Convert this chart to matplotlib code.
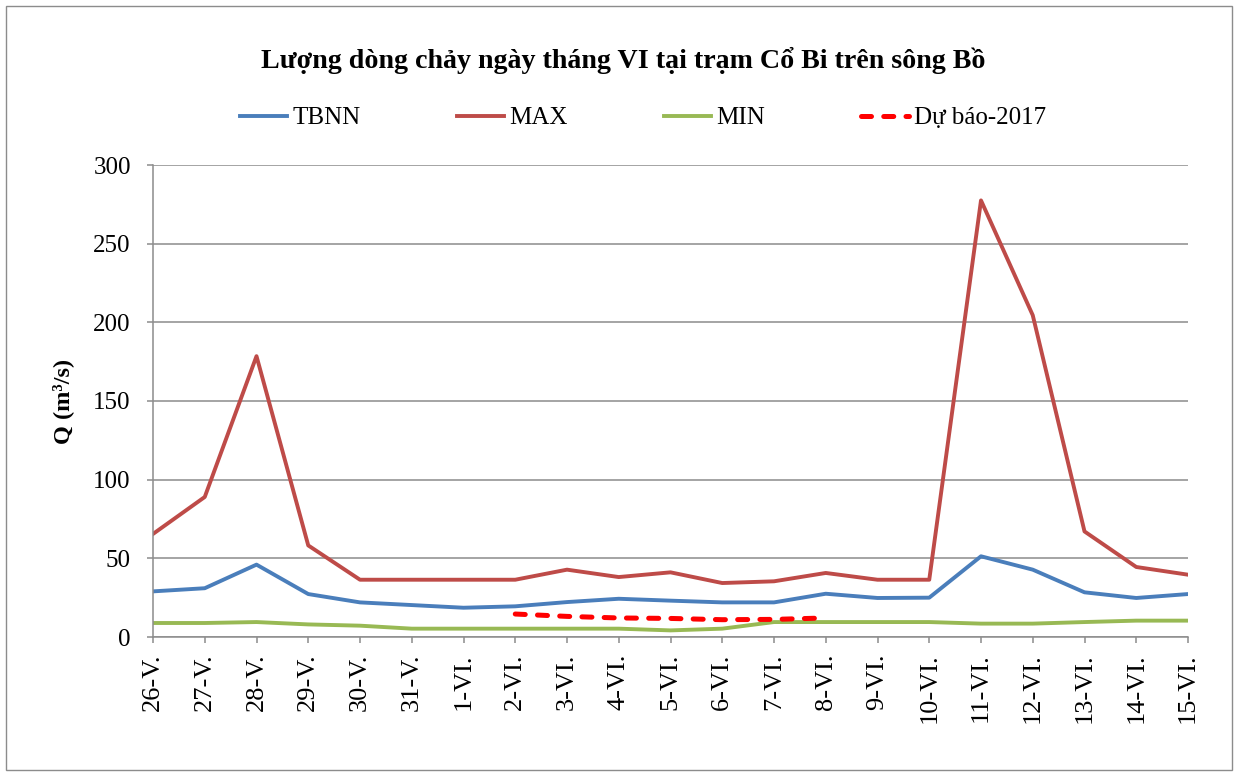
import matplotlib
matplotlib.use("Agg")
import matplotlib.pyplot as plt
from matplotlib.patches import Rectangle

categories = ["26-V.", "27-V.", "28-V.", "29-V.", "30-V.", "31-V.",
              "1-VI.", "2-VI.", "3-VI.", "4-VI.", "5-VI.", "6-VI.", "7-VI.",
              "8-VI.", "9-VI.", "10-VI.", "11-VI.", "12-VI.", "13-VI.",
              "14-VI.", "15-VI."]
tbnn = [29.0, 31.0, 46.0, 27.3, 22.0, 20.3, 18.6, 19.5, 22.2, 24.3, 23.1,
        22.0, 22.0, 27.5, 24.8, 25.0, 51.3, 42.8, 28.4, 24.8, 27.3]
vmax = [65.5, 89.0, 178.5, 58.2, 36.4, 36.4, 36.4, 36.4, 42.8, 38.1, 41.1,
        34.3, 35.4, 40.7, 36.4, 36.4, 277.5, 204.5, 67.1, 44.5, 39.6]
vmin = [8.9, 8.9, 9.5, 8.0, 7.2, 5.3, 5.3, 5.3, 5.3, 5.3, 4.2,
        5.3, 9.5, 9.5, 9.5, 9.5, 8.5, 8.5, 9.5, 10.4, 10.4]
forecast_cats = ["2-VI.", "3-VI.", "4-VI.", "5-VI.", "6-VI.", "7-VI.", "8-VI."]
forecast = [14.6, 13.1, 12.1, 11.8, 11.0, 11.2, 12.1]
yticks = [0, 50, 100, 150, 200, 250, 300]

title = "Lượng dòng chảy ngày tháng VI tại trạm Cổ Bi trên sông Bồ"
ylabel = "Q (m³/s)"

plt.rcParams['font.family'] = ['Liberation Serif', 'DejaVu Serif']

fig = plt.figure(figsize=(12.38, 7.74), dpi=100)
ax = fig.add_axes([153/1238, 1-637/774, (1188-153)/1238, (637-165)/774])

x = list(range(len(categories)))
fx = [categories.index(c) for c in forecast_cats]

ax.plot(x, tbnn, color="#4A7EBB", lw=2.8, label="TBNN", solid_joinstyle="round")
ax.plot(x, vmax, color="#BE4B48", lw=2.8, label="MAX", solid_joinstyle="round")
ax.plot(x, vmin, color="#98B954", lw=2.8, label="MIN", solid_joinstyle="round")
ax.plot(fx, forecast, color="#FF0000", lw=3.6, ls=(0, (2.0, 2.45)),
        dash_capstyle="round", label="Dự báo-2017")

ax.set_xlim(0, len(categories) - 1)
ax.set_ylim(0, 300)
ax.set_yticks(yticks)
ax.set_yticklabels([str(t) for t in yticks], fontsize=18)
ax.set_xticks(x)
ax.set_xticklabels(categories, rotation=90, fontsize=19)
ax.grid(axis="y", color="#8C8C8C", lw=1.1)
ax.set_axisbelow(True)
for s in ["top", "right"]:
    ax.spines[s].set_visible(False)
for s in ["left", "bottom"]:
    ax.spines[s].set_color("#8C8C8C")
    ax.spines[s].set_linewidth(1.1)
ax.tick_params(axis="both", color="#8C8C8C", length=4, width=1.1, direction="out")
ax.tick_params(axis="x", pad=8)
ax.tick_params(axis="y", pad=12)
ax.set_ylabel(ylabel, fontsize=17.5, fontweight="bold", labelpad=14)

fig.text(623/1238, 1-60/774, title, ha="center", va="center",
         fontsize=20.2, fontweight="bold")

leg = fig.legend(loc="center", bbox_to_anchor=(643/1238, 1-118/774), ncol=4,
                 frameon=False, fontsize=18, handlelength=1.9,
                 columnspacing=3.85, handletextpad=0.2)

fig.patches.append(Rectangle((6/1238, 4/774), 1226/1238, 764/774,
                             transform=fig.transFigure, fill=False,
                             edgecolor="#8C8C8C", lw=1.0))

fig.savefig("out.png", dpi=100)
